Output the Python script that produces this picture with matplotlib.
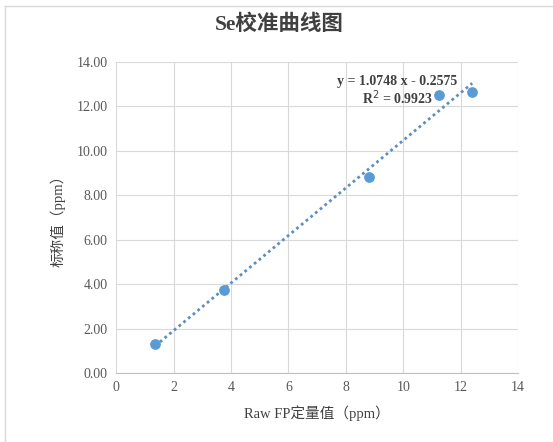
import matplotlib
matplotlib.use('Agg')
import matplotlib.pyplot as plt
import numpy as np

plt.rcParams['font.family'] = ['Liberation Serif', 'Noto Sans CJK SC']

# data
raw_fp = [1.36, 3.76, 8.81, 11.25, 12.40]
nominal = [1.31, 3.74, 8.83, 12.52, 12.66]
eq_text = "y = 1.0748 x - 0.2575\nR$^2$ = 0.9923"
x_ticks = [0, 2, 4, 6, 8, 10, 12, 14]
y_ticks = [0, 2, 4, 6, 8, 10, 12, 14]

fig = plt.figure(figsize=(5.53, 4.42), dpi=100)
ax = fig.add_axes([0.21, 0.156, 0.727, 0.704])

# chart border (only top and left edges show in the crop)
fig.add_artist(plt.Line2D([0.009, 1.0], [0.986, 0.986], color='#d9d9d9', linewidth=1))
fig.add_artist(plt.Line2D([0.009, 0.009], [0.0, 0.986], color='#d9d9d9', linewidth=1))

# linear trend line
k, b = np.polyfit(raw_fp, nominal, 1)
xs = np.array([min(raw_fp), max(raw_fp)])
ax.plot(xs, k * xs + b, linestyle=(0, (1, 1.2)), color='#5b8fc4', linewidth=2, zorder=2)

ax.scatter(raw_fp, nominal, s=45, color='#5b9bd5', zorder=3)

ax.set_xlim(0, 14)
ax.set_ylim(0, 14)
ax.set_xticks(x_ticks)
ax.set_yticks(y_ticks)
ax.set_yticklabels([f"{v:.2f}" for v in y_ticks])
ax.grid(True, color='#d9d9d9', linewidth=0.8)
ax.set_axisbelow(True)
for s in ['top', 'right', 'left']:
    ax.spines[s].set_visible(False)
ax.spines['bottom'].set_color('#bfbfbf')
ax.tick_params(length=0, labelsize=10, colors='#595959', pad=6)

fig.text(0.505, 0.943, "Se校准曲线图", fontsize=15.5, fontweight='bold', color='#404040',
         ha='center', va='center')
ax.set_xlabel("Raw FP定量值（ppm）", fontsize=10.5, color='#404040', labelpad=8)
ax.set_ylabel("标称值（ppm）", fontsize=10.5, color='#404040', labelpad=8)

ax.text(9.79, 12.7, eq_text, fontsize=10, fontweight='bold', color='#404040',
        ha='center', va='center', multialignment='center', linespacing=1.05)

fig.savefig('out.png', dpi=100)
